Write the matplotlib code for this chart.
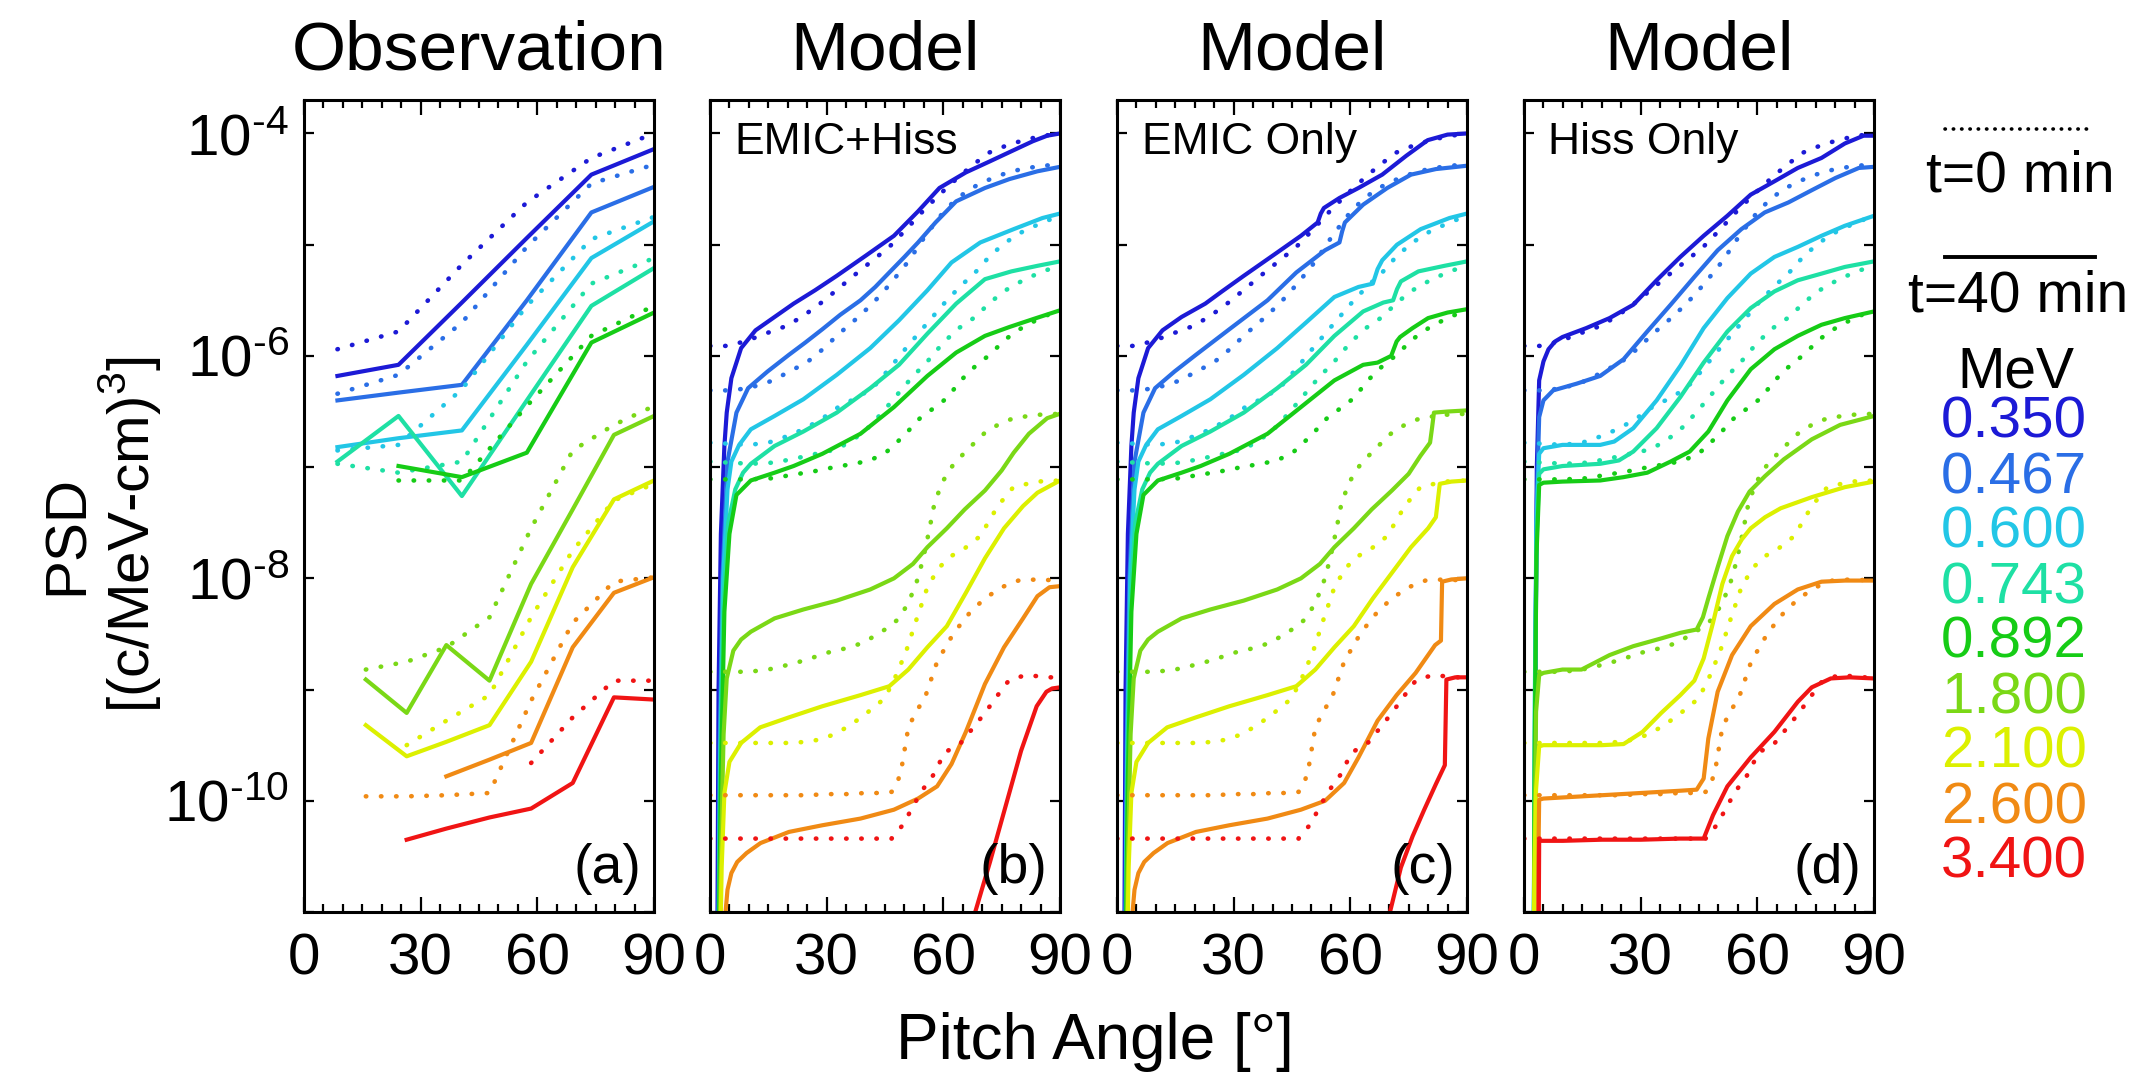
import numpy as np
import matplotlib
matplotlib.use('Agg')
import matplotlib.pyplot as plt
from matplotlib.lines import Line2D
from matplotlib.ticker import MultipleLocator, FixedLocator, NullLocator

plt.rcParams['font.family'] = ['Liberation Sans', 'DejaVu Sans']
plt.rcParams['mathtext.fontset'] = 'custom'
plt.rcParams['mathtext.rm'] = 'Liberation Sans'

# energies and colours (jet-like)
energies = ['0.350', '0.467', '0.600', '0.743', '0.892', '1.800', '2.100', '2.600', '3.400']
colors = ['#1c1ad6', '#2a6ee6', '#22c6e6', '#1ee0a4', '#16cc16', '#7ad816', '#dcf000', '#f08a14', '#f01414']

panel_titles = ['Observation', 'Model', 'Model', 'Model']
panel_tags = ['(a)', '(b)', '(c)', '(d)']
panel_notes = ['', 'EMIC+Hiss', 'EMIC Only', 'Hiss Only']

# ---------------- (a) observation, log10 PSD ----------------
obs_pa_low = [8.6, 24.3, 40.6, 57.3, 73.9, 90]           # 0.350 - 0.892 MeV
obs_pa_high = [15.9, 26.4, 36.6, 47.7, 58.4, 69.1, 79.7, 90]  # 1.8 - 3.4 MeV
nan = np.nan
obs_t0 = [
    [-5.94, -5.78, -5.18, -4.62, -4.22, -4.00],
    [-6.34, -6.17, -5.70, -5.02, -4.45, -4.28],
    [-6.85, -6.80, -6.30, -5.55, -4.95, -4.75],
    [-6.97, -7.05, -6.95, -6.05, -5.35, -5.12],
    [nan, -7.12, -7.12, -6.45, -5.82, -5.55],
    [-8.82, -8.75, -8.62, -8.35, -7.55, -6.85, -6.62, -6.45],
    [nan, -9.50, -9.28, -9.05, -8.35, -7.75, -7.30, -7.15],
    [-9.96, -9.96, -9.95, -9.93, -9.10, -8.40, -8.03, -7.99],
    [nan, nan, nan, nan, -9.66, -9.25, -8.92, -8.92],
]
obs_t40 = [
    [-6.18, -6.08, -5.52, -4.94, -4.37, -4.14],
    [-6.40, -6.33, -6.26, -5.50, -4.71, -4.48],
    [-6.82, -6.74, -6.67, -5.90, -5.12, -4.79],
    [-6.95, -6.54, -7.26, -6.40, -5.55, -5.21],
    [nan, -6.99, -7.09, -6.87, -5.88, -5.61],
    [-8.91, -9.21, -8.60, -8.92, -8.05, -7.38, -6.71, -6.54],
    [-9.32, -9.60, -9.47, -9.32, -8.75, -7.90, -7.29, -7.12],
    [nan, nan, -9.78, -9.63, -9.48, -8.62, -8.13, -7.99],
    [nan, -10.35, -10.25, -10.15, -10.07, -9.84, -9.07, -9.09],
]

# ---------------- model initial condition (t=0), shared by b, c, d ----------------
init_pa = [
    [0, 5, 10.5, 15, 19.7, 24, 28.3, 32.5, 36.9, 41.5, 46.1, 50.5, 54.7, 58.7, 62.7, 67.3, 71.9, 76.8, 81.8, 86, 90],
    [0, 5, 10, 15.4, 20, 25.2, 29, 33.2, 37.5, 41.8, 46.4, 51, 55, 59, 63, 66.8, 70.7, 75, 80, 85.5, 90],
    [0, 5, 10, 15, 20, 24.6, 29, 33, 37.5, 41.8, 46, 50.4, 55.5, 60.9, 64.5, 68.2, 72, 76, 80.5, 85.5, 90],
    [0, 5, 10.5, 16, 21, 26, 32.6, 37, 41.2, 45, 48.6, 52, 55.9, 60, 64, 68.2, 72, 76, 80.5, 85.5, 90],
    [0, 5, 10.5, 16, 21, 26.4, 32, 37, 41.2, 45.5, 49.8, 54, 57.5, 60.9, 64.5, 68, 71.9, 76, 80.5, 85.5, 90],
    [0, 5, 10, 15, 21, 25, 30, 36, 40, 43, 46, 48.6, 51, 53, 54.7, 56.3, 57.8, 60, 62.5, 66, 70.7, 74, 78, 84, 90],
    [0, 5, 10, 15, 20, 25, 28, 31.4, 35.7, 40, 44.9, 47.5, 50.4, 53, 56, 59, 62, 65.5, 69.5, 74, 78, 84, 90],
    [0, 5, 10, 15, 20, 25, 30, 35, 40, 44, 46.7, 48, 49.1, 50, 51, 53, 55.3, 58.4, 62.7, 67, 70.7, 75, 79.3, 84, 90],
    [0, 5, 10, 15, 20, 25, 30, 35, 40, 44, 46.7, 48, 49.8, 52, 54.7, 57.8, 60.2, 64.5, 67.5, 70.7, 74, 76.8, 79, 81.7, 86.7, 90],
]
init_psd = [
    [-5.91, -5.91, -5.85, -5.79, -5.73, -5.64, -5.53, -5.41, -5.28, -5.15, -5.02, -4.86, -4.70, -4.56, -4.43, -4.29, -4.17, -4.10, -4.05, -4.02, -4.00],
    [-6.31, -6.31, -6.29, -6.23, -6.15, -6.05, -5.94, -5.80, -5.67, -5.53, -5.35, -5.15, -4.94, -4.75, -4.60, -4.50, -4.43, -4.37, -4.32, -4.29, -4.28],
    [-6.78, -6.79, -6.80, -6.78, -6.72, -6.65, -6.56, -6.46, -6.38, -6.29, -6.12, -5.93, -5.72, -5.50, -5.37, -5.25, -5.10, -4.98, -4.88, -4.80, -4.74],
    [-6.95, -6.96, -6.97, -6.96, -6.93, -6.89, -6.84, -6.75, -6.63, -6.48, -6.33, -6.19, -6.05, -5.88, -5.75, -5.65, -5.52, -5.41, -5.32, -5.24, -5.19],
    [-7.11, -7.11, -7.11, -7.10, -7.07, -7.04, -7.00, -6.97, -6.94, -6.86, -6.72, -6.56, -6.47, -6.38, -6.22, -6.10, -5.99, -5.85, -5.74, -5.65, -5.59],
    [-8.84, -8.84, -8.84, -8.82, -8.77, -8.73, -8.67, -8.62, -8.57, -8.50, -8.44, -8.36, -8.22, -8.05, -7.84, -7.58, -7.31, -7.12, -6.98, -6.85, -6.69, -6.62, -6.56, -6.53, -6.52],
    [-9.48, -9.48, -9.48, -9.48, -9.48, -9.47, -9.45, -9.41, -9.33, -9.22, -9.08, -8.90, -8.66, -8.38, -8.07, -7.90, -7.80, -7.73, -7.62, -7.35, -7.18, -7.13, -7.12],
    [-9.95, -9.95, -9.95, -9.95, -9.95, -9.95, -9.94, -9.94, -9.93, -9.93, -9.92, -9.85, -9.74, -9.55, -9.34, -9.20, -9.07, -8.75, -8.49, -8.30, -8.18, -8.08, -8.02, -8.01, -8.02],
    [-10.34, -10.34, -10.34, -10.34, -10.34, -10.34, -10.34, -10.34, -10.34, -10.34, -10.34, -10.28, -10.21, -10.06, -9.90, -9.75, -9.57, -9.48, -9.35, -9.21, -9.05, -8.92, -8.89, -8.87, -8.89, -8.89],
]

# ---------------- (b) EMIC+Hiss, t=40 min ----------------
b_pa = [
    [1.8, 2.2, 2.8, 3.7, 4.3, 5.5, 8, 11.7, 16.6, 21.5, 27, 32.6, 40, 47.3, 53.5, 59, 65.8, 72, 78.1, 83, 86.7, 90],
    [2.0, 2.5, 3.2, 4.5, 6.8, 9.8, 14.8, 20.3, 24.5, 28.9, 33.5, 38.7, 42.5, 46.1, 50, 53.5, 58, 63.3, 70.7, 77, 84.2, 90],
    [2.0, 2.6, 3.4, 4.5, 5.5, 7.5, 10.5, 16.6, 24, 32.6, 41.2, 48.6, 55.9, 62.1, 69.5, 78.1, 85.5, 90],
    [2.0, 2.7, 3.5, 4.7, 6.5, 8.5, 10.5, 16.6, 24, 32.6, 41.2, 48.6, 55.9, 63.3, 70.7, 77.5, 84.2, 90],
    [2.0, 2.8, 3.7, 5, 6.8, 10.5, 16.6, 21.5, 28.9, 38.7, 47.3, 55.9, 63.3, 70.7, 77, 83, 90],
    [2.2, 2.8, 3.5, 4.3, 6, 8, 10.5, 16.6, 24, 32.6, 41.2, 47.3, 52.2, 55.9, 60.9, 65.5, 70.7, 75, 78.1, 82, 86.7, 90],
    [2.3, 3.0, 3.7, 5, 8, 12.9, 20.3, 28.9, 38.7, 46.1, 51, 55.9, 60.9, 65.8, 70.7, 75.6, 80.5, 84.2, 90],
    [3.7, 4.0, 4.5, 5.5, 7, 9.4, 13, 20.3, 28.9, 38.7, 47.3, 53.5, 58.4, 62.1, 65.8, 70.7, 75.6, 80.5, 84.2, 87.3, 90],
    [67.5, 68.2, 72, 76, 80, 84, 86.5, 88, 90],
]
b_psd = [
    [-12, -9.0, -7.6, -6.81, -6.51, -6.20, -5.93, -5.77, -5.65, -5.53, -5.41, -5.28, -5.10, -4.92, -4.70, -4.49, -4.35, -4.25, -4.15, -4.07, -4.02, -4.00],
    [-12, -9.5, -8.0, -6.95, -6.51, -6.29, -6.14, -5.99, -5.88, -5.76, -5.63, -5.50, -5.38, -5.25, -5.11, -4.98, -4.80, -4.61, -4.49, -4.41, -4.34, -4.30],
    [-12, -9.6, -8.0, -7.2, -6.95, -6.80, -6.66, -6.54, -6.39, -6.17, -5.93, -5.68, -5.41, -5.16, -4.98, -4.86, -4.76, -4.72],
    [-12, -9.7, -8.2, -7.5, -7.2, -7.05, -6.97, -6.81, -6.68, -6.51, -6.29, -6.08, -5.80, -5.53, -5.31, -5.24, -5.19, -5.15],
    [-12, -9.8, -8.3, -7.6, -7.25, -7.12, -7.05, -6.99, -6.88, -6.70, -6.46, -6.18, -5.97, -5.82, -5.74, -5.67, -5.59],
    [-12, -10.5, -9.4, -8.9, -8.65, -8.55, -8.48, -8.36, -8.28, -8.20, -8.10, -8.00, -7.87, -7.72, -7.55, -7.38, -7.21, -7.03, -6.87, -6.70, -6.56, -6.52],
    [-12, -10.6, -9.93, -9.65, -9.48, -9.34, -9.25, -9.15, -9.05, -8.97, -8.82, -8.62, -8.43, -8.13, -7.82, -7.55, -7.35, -7.23, -7.12],
    [-11.3, -11.0, -10.8, -10.65, -10.55, -10.47, -10.38, -10.28, -10.22, -10.16, -10.08, -9.98, -9.87, -9.67, -9.38, -8.95, -8.62, -8.36, -8.16, -8.08, -8.07],
    [-11.2, -11.0, -10.55, -10.05, -9.55, -9.15, -9.02, -8.99, -8.98],
]

# ---------------- (c) EMIC only, t=40 min ----------------
c_pa = [
    [1.8, 2.2, 2.8, 3.7, 4.3, 5.5, 8, 11.7, 16.6, 22.7, 27, 32.6, 41.2, 47.3, 51.6, 52.4, 53.2, 57.2, 62.1, 68.2, 74.4, 79.9, 85, 90],
    [2.0, 2.5, 3.2, 4.5, 6.8, 9.8, 14.8, 20.3, 28.9, 38.7, 46.1, 53.5, 57.2, 57.9, 58.6, 63.3, 69.5, 75.6, 82, 90],
    [2.0, 2.6, 3.4, 4.5, 5.5, 7.5, 10.5, 16.6, 24, 32.6, 41.2, 48.6, 55.9, 62.1, 65.8, 67, 68.2, 72, 78.1, 85.5, 90],
    [2.0, 2.7, 3.5, 4.7, 6.5, 8.5, 10.5, 16.6, 24, 32.6, 41.2, 48.6, 55.9, 63.3, 68.5, 71, 72, 73, 77.5, 84.2, 90],
    [2.0, 2.8, 3.7, 5, 6.8, 10.5, 16.6, 21.5, 28.9, 38.7, 47.3, 55.9, 63.3, 67, 70.5, 71.9, 72.8, 76, 80, 85, 90],
    [2.2, 2.8, 3.5, 4.3, 6, 8, 10.5, 16.6, 24, 32.6, 41.2, 47.3, 52.2, 55.9, 60.9, 65.5, 70.7, 75, 78, 80.5, 81, 81.5, 85, 90],
    [2.3, 3.0, 3.7, 5, 8, 12.9, 20.3, 28.9, 38.7, 46.1, 51, 55.9, 60.9, 65.8, 70.7, 75.6, 80, 82, 82.5, 83, 86, 90],
    [3.7, 4.0, 4.5, 5.5, 7, 9.4, 13, 20.3, 28.9, 38.7, 47.3, 53.5, 58.4, 62.1, 67, 71.9, 76.8, 81.8, 83.3, 83.6, 86, 90],
    [69.5, 70.2, 73, 76, 79, 82, 84.3, 84.7, 87, 90],
]
c_psd = [
    [-12, -9.0, -7.6, -6.81, -6.51, -6.20, -5.93, -5.77, -5.65, -5.53, -5.42, -5.28, -5.07, -4.92, -4.80, -4.72, -4.67, -4.58, -4.49, -4.37, -4.20, -4.06, -4.01, -4.00],
    [-12, -9.5, -8.0, -6.95, -6.51, -6.29, -6.14, -5.99, -5.76, -5.50, -5.25, -5.05, -4.98, -4.88, -4.80, -4.64, -4.49, -4.37, -4.32, -4.29],
    [-12, -9.6, -8.0, -7.2, -6.95, -6.80, -6.66, -6.54, -6.39, -6.17, -5.93, -5.70, -5.47, -5.38, -5.35, -5.22, -5.14, -5.00, -4.86, -4.76, -4.72],
    [-12, -9.7, -8.2, -7.5, -7.2, -7.05, -6.97, -6.81, -6.68, -6.51, -6.29, -6.08, -5.82, -5.60, -5.52, -5.50, -5.40, -5.33, -5.24, -5.19, -5.15],
    [-12, -9.8, -8.3, -7.6, -7.25, -7.12, -7.05, -6.99, -6.88, -6.70, -6.46, -6.22, -6.08, -6.06, -6.00, -5.87, -5.83, -5.75, -5.66, -5.61, -5.58],
    [-12, -10.5, -9.4, -8.9, -8.65, -8.55, -8.48, -8.36, -8.28, -8.20, -8.10, -8.00, -7.87, -7.72, -7.55, -7.38, -7.21, -7.06, -6.90, -6.78, -6.65, -6.51, -6.50, -6.49],
    [-12, -10.6, -9.93, -9.65, -9.48, -9.34, -9.25, -9.15, -9.05, -8.97, -8.82, -8.62, -8.43, -8.18, -7.95, -7.72, -7.55, -7.45, -7.30, -7.15, -7.13, -7.12],
    [-11.3, -11.0, -10.8, -10.65, -10.55, -10.47, -10.38, -10.28, -10.22, -10.16, -10.08, -10.00, -9.84, -9.61, -9.28, -9.05, -8.85, -8.60, -8.56, -8.03, -8.01, -8.00],
    [-11.2, -11.0, -10.6, -10.32, -10.08, -9.85, -9.68, -8.91, -8.89, -8.89],
]

# ---------------- (d) Hiss only, t=40 min ----------------
d_pa = [
    [2.6, 3.0, 3.3, 3.9, 5, 6.3, 8, 9.9, 16, 22, 28.1, 34.1, 40.2, 46.2, 52.3, 58.3, 64.4, 70.4, 76.5, 82.5, 87.3, 90],
    [2.5, 2.9, 3.3, 3.9, 5, 7.5, 13.5, 19.6, 25.6, 31.7, 37.7, 43.8, 49.8, 55.9, 61.9, 68, 74, 80.1, 86.1, 90],
    [2.4, 2.8, 3.2, 3.9, 5, 9.9, 19.6, 23.2, 28.1, 34.1, 40.2, 46.2, 52.3, 58.3, 64.4, 70.4, 76.5, 82.5, 90],
    [2.4, 2.8, 3.2, 3.9, 5, 9.9, 19.6, 24.4, 28.1, 34.1, 40.2, 46.2, 52.3, 58.3, 64.4, 70.4, 76.5, 82.5, 90],
    [2.4, 2.8, 3.2, 3.9, 5, 9.9, 19.6, 25.6, 31.7, 37.7, 42.6, 47.4, 52.3, 58.3, 64.4, 70.4, 76.5, 82.5, 90],
    [2.3, 2.7, 3.1, 3.9, 5, 9.9, 14.8, 22, 28.1, 35.3, 40.2, 44.4, 46, 47.4, 49.8, 52.3, 55, 58, 62, 66.8, 74, 81.3, 90],
    [2.3, 2.7, 3.1, 3.9, 5, 10, 20, 25.6, 30.5, 35.3, 40.2, 43.8, 46.2, 48.6, 51, 53.5, 56, 58.3, 62, 66, 74, 82.5, 90],
    [3.5, 3.7, 3.9, 5, 10, 20, 30, 40, 44.4, 46.2, 47.4, 49.8, 53.5, 58.3, 64.4, 70.4, 76.5, 82.5, 90],
    [3.7, 3.8, 3.9, 5, 10, 20, 30, 40, 46.2, 48.6, 52.3, 58.3, 64.4, 70.4, 74, 78.9, 83.7, 90],
]
d_psd = [
    [-12, -8.5, -7.0, -6.22, -6.05, -5.94, -5.87, -5.83, -5.75, -5.66, -5.54, -5.32, -5.11, -4.92, -4.74, -4.55, -4.43, -4.31, -4.22, -4.09, -4.02, -4.02],
    [-12, -9.0, -7.3, -6.55, -6.40, -6.31, -6.25, -6.18, -6.03, -5.78, -5.54, -5.29, -5.05, -4.86, -4.71, -4.62, -4.51, -4.40, -4.31, -4.30],
    [-12, -9.0, -7.5, -6.88, -6.83, -6.80, -6.80, -6.77, -6.65, -6.40, -6.09, -5.75, -5.48, -5.26, -5.11, -5.02, -4.92, -4.83, -4.74],
    [-12, -9.2, -7.7, -7.06, -7.02, -6.99, -6.97, -6.94, -6.86, -6.65, -6.37, -6.06, -5.78, -5.57, -5.42, -5.32, -5.26, -5.20, -5.15],
    [-12, -9.4, -7.8, -7.16, -7.14, -7.13, -7.12, -7.09, -7.05, -6.95, -6.86, -6.68, -6.40, -6.12, -5.94, -5.82, -5.72, -5.66, -5.60],
    [-12, -10.5, -9.2, -8.87, -8.85, -8.82, -8.82, -8.69, -8.61, -8.54, -8.49, -8.46, -8.35, -8.18, -7.90, -7.62, -7.40, -7.22, -7.08, -6.93, -6.75, -6.62, -6.54],
    [-12, -10.6, -9.9, -9.51, -9.50, -9.50, -9.50, -9.49, -9.38, -9.21, -9.05, -8.92, -8.72, -8.40, -8.05, -7.80, -7.65, -7.55, -7.45, -7.37, -7.27, -7.18, -7.13],
    [-12, -10.5, -9.99, -9.98, -9.97, -9.95, -9.93, -9.91, -9.90, -9.80, -9.44, -9.02, -8.69, -8.43, -8.23, -8.10, -8.03, -8.02, -8.02],
    [-12, -11.0, -10.36, -10.36, -10.36, -10.35, -10.35, -10.34, -10.34, -10.13, -9.87, -9.61, -9.38, -9.11, -8.98, -8.90, -8.89, -8.90],
]

W, H = 2138, 1075
fig = plt.figure(figsize=(W / 100, H / 100), dpi=100)

ax_left = [304, 710, 1117, 1524]
ax_w, ax_top, ax_bot = 350, 100, 912

lw = 3.0
dot = (0, (0.1, 3.2))


def style_axes(ax, first):
    ax.set_yscale('log')
    ax.set_xlim(0, 90)
    ax.set_ylim(1e-11, 2e-4)
    ax.xaxis.set_major_locator(FixedLocator([0, 30, 60, 90]))
    ax.xaxis.set_minor_locator(MultipleLocator(5))
    ax.yaxis.set_major_locator(FixedLocator([10.0 ** k for k in range(-11, -3)]))
    ax.yaxis.set_minor_locator(NullLocator())
    ax.tick_params(which='both', direction='in', top=True, right=True, width=1.6)
    ax.tick_params(axis='x', which='major', length=11, pad=15, labelsize=42)
    ax.tick_params(axis='x', which='minor', length=5.5)
    ax.tick_params(axis='y', which='major', length=7, pad=11, labelsize=42)
    ax.set_xticklabels(['0', '30', '60', '90'])
    if first:
        labs = []
        for k in range(-11, -3):
            labs.append(r'$\mathregular{10^{\text{-}%d}}$' % abs(k) if k % 2 == 0 else '')
        ax.set_yticklabels(labs)
    else:
        ax.set_yticklabels([])
    for s in ax.spines.values():
        s.set_linewidth(2.2)


for p in range(4):
    ax = fig.add_axes([ax_left[p] / W, (H - ax_bot) / H, ax_w / W, (ax_bot - ax_top) / H])
    style_axes(ax, p == 0)
    for i in range(len(energies)):
        if p == 0:
            pa = obs_pa_low if i < 5 else obs_pa_high
            ax.plot(pa, 10.0 ** np.array(obs_t0[i]), color=colors[i], lw=3.3, linestyle=dot,
                    dash_capstyle='round')
            ax.plot(pa, 10.0 ** np.array(obs_t40[i]), color=colors[i], lw=lw)
        else:
            ax.plot(init_pa[i], 10.0 ** np.array(init_psd[i]), color=colors[i], lw=3.3,
                    linestyle=dot, dash_capstyle='round')
            pa_t40 = [b_pa, c_pa, d_pa][p - 1][i]
            psd_t40 = [b_psd, c_psd, d_psd][p - 1][i]
            ax.plot(pa_t40, 10.0 ** np.array(psd_t40), color=colors[i], lw=lw)
    ax.set_title(panel_titles[p], fontsize=50, pad=22)
    ax.text(0.965, 0.036, panel_tags[p], transform=ax.transAxes, ha='right', va='baseline',
            fontsize=40)
    if panel_notes[p]:
        ax.text(0.07, 0.948, panel_notes[p], transform=ax.transAxes, ha='left', va='center',
                fontsize=32)

# axis labels
fig.text(1095 / W, 1 - 1042 / H, 'Pitch Angle [°]', ha='center', va='center', fontsize=46)
fig.text(68 / W, 1 - 535 / H, 'PSD', rotation=90, ha='center', va='center', fontsize=42)
fig.text(130 / W, 1 - 535 / H, r'[(c/MeV-cm)$^\mathregular{3}$]', rotation=90, ha='center',
         va='center', fontsize=42)

# legend on the right
fig.add_artist(Line2D([1945 / W, 2090 / W], [1 - 129 / H] * 2, transform=fig.transFigure,
                      color='black', lw=2.6, linestyle=(0, (0.1, 2.2)), dash_capstyle='round'))
fig.text(2020 / W, 1 - 176 / H, 't=0 min', ha='center', va='center', fontsize=41)
fig.add_artist(Line2D([1945 / W, 2095 / W], [1 - 257 / H] * 2, transform=fig.transFigure,
                      color='black', lw=2.8))
fig.text(2018 / W, 1 - 297 / H, 't=40 min', ha='center', va='center', fontsize=41)
fig.text(2016 / W, 1 - 373 / H, 'MeV', ha='center', va='center', fontsize=41)
for i, e in enumerate(energies):
    fig.text(2014 / W, 1 - (423 + 55 * i) / H, e, ha='center', va='center', fontsize=42,
             color=colors[i])

fig.savefig('out.png', dpi=100)
